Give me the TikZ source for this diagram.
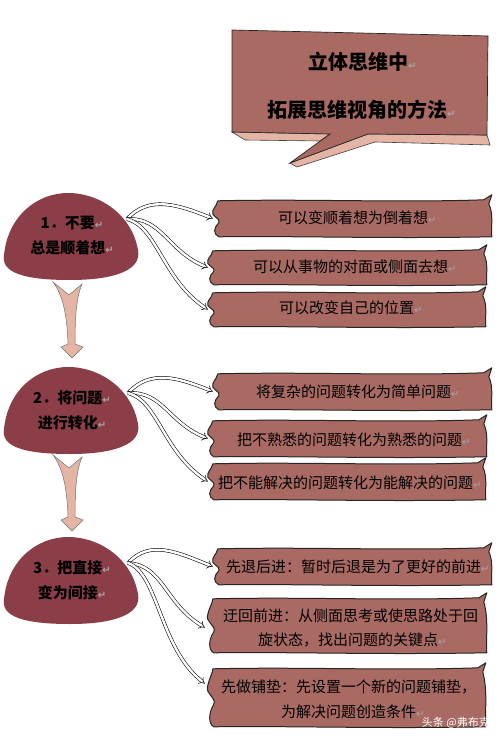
\documentclass[tikz,border=0pt]{standalone}
\usepackage{fontspec}
\setmainfont{Noto Sans CJK SC}
\newfontfamily\symf{DejaVu Sans}
\usetikzlibrary{arrows.meta,calc}
\definecolor{dome}{HTML}{8B3E48}
\definecolor{bann}{HTML}{A86A62}
\definecolor{pinkc}{HTML}{E4B5A4}
\newcommand\pmark{{\symf\color{black!35}\fontsize{10pt}{10pt}\selectfont ↵}}
\newcommand\bannershape[3]{%
\begin{scope}[shift={(#1.north west)}]
\draw[bannerst] (5,1)
  .. controls ({#2*0.35},-1) and ({#2*0.65},3) .. ({#2-9},0)
  -- ({#2-1},-5)
  -- ({#2-4},4)
  .. controls ({#2+1},{#3*0.4}) and ({#2-2},{#3*0.7}) .. ({#2-1},{#3})
  .. controls ({#2*0.6},{#3+2}) and ({#2*0.3},{#3-1}) .. (6,{#3})
  .. controls (0,{#3-3}) and (1,{#3*0.75}) .. (6,{#3*0.62})
  .. controls (9,{#3*0.5}) and (-3,{#3*0.45}) .. (0,{#3*0.3})
  .. controls (2,{#3*0.15}) and (5,5) .. (5,1)
  -- cycle;
\end{scope}}
\newcommand\domeshape{%
\fill[dome] (4,255) .. controls (8,215) and (38,193) .. (68,193)
  .. controls (100,193) and (132,215) .. (138,250)
  .. controls (142,270) and (115,280) .. (70,280)
  .. controls (22,280) and (1,272) .. (4,255) -- cycle;}
\newcommand\pinkarrow{%
\filldraw[fill=pinkc, draw=black!55, line width=0.5pt] (-17,0) .. controls (-8,12) and (-3,30) .. (-2,62)
  -- (-9,65) -- (2,76) -- (13,65) -- (5,62)
  .. controls (5,30) and (7,14) .. (12,2) -- (-1,13) -- cycle;}
\begin{document}
\begin{tikzpicture}[x=1pt,y=-1pt,
  bbox/.style={inner sep=0pt, draw=none},
  bannerst/.style={fill=bann, draw=black!85, line width=1pt, line join=round},
  btext/.style={font=\fontsize{15pt}{24pt}\selectfont, inner sep=0pt, text=black},
  dtext/.style={font=\fontsize{15pt}{25pt}\selectfont\bfseries, inner sep=0pt, align=center},
  ttext/.style={font=\fontsize{20pt}{24pt}\selectfont\bfseries, inner sep=0pt, anchor=west},
  conn/.style={double=white, double distance=2.4pt, line width=0.55pt, draw=black, -{Implies[scale=1.6]}}]
\useasboundingbox (0,0) rectangle (500,738);
\fill[white] (0,0) rectangle (500,738);

% title callout
\filldraw[fill=pinkc, draw=black!75, line width=0.6pt] (232,132) -- (245,140) -- (320,141) -- (330,134) -- cycle;
\filldraw[fill=pinkc, draw=black!75, line width=0.6pt] (290,163) -- (297,167) -- (375,142) -- (490,145) -- (487,135) -- (368,134) -- cycle;
\filldraw[fill=bann, draw=black!85, line width=0.7pt] (232,30) -- (488,36) -- (487,135) -- (368,134) -- (290,163) -- (330,134) -- (232,132) -- cycle;
\node[ttext] (tt1) at (308,62) {立体思维中\pmark};
\node[ttext] (tt2) at (267,110) {拓展思维视角的方法\pmark};

% domes
\begin{scope}[shift={(0,0)}]\domeshape\end{scope}
\begin{scope}[shift={(0,174)}]\domeshape\end{scope}
\begin{scope}[shift={(0,344)}]\domeshape\end{scope}
\node[dtext] (n1) at (72,236) {1．不要\pmark\\总是顺着想\pmark};
\node[dtext] (n2) at (72,410) {2．将问题\pmark\\进行转化\pmark};
\node[dtext] (n3) at (72,580) {3．把直接\pmark\\变为间接\pmark};

% down arrows
\coordinate (a1) at (70,282);
\coordinate (a2) at (70,455);
\begin{scope}[shift={(a1)}]\pinkarrow\end{scope}
\begin{scope}[shift={(a2)}]\pinkarrow\end{scope}

% banners
\node[bbox, minimum width=280pt, minimum height=37pt] (b1) at (353,218.5) {};
\node[bbox, minimum width=280pt, minimum height=35pt] (b2) at (348,267.5) {};
\node[bbox, minimum width=279pt, minimum height=35pt] (b3) at (347.5,309.5) {};
\node[bbox, minimum width=280pt, minimum height=37pt] (b4) at (353,391.5) {};
\node[bbox, minimum width=280pt, minimum height=37pt] (b5) at (348,438.5) {};
\node[bbox, minimum width=279pt, minimum height=37pt] (b6) at (347.5,481.5) {};
\node[bbox, minimum width=280pt, minimum height=37pt] (b7) at (353,566.5) {};
\node[bbox, minimum width=280pt, minimum height=55pt] (b8) at (348,625.5) {};
\node[bbox, minimum width=279pt, minimum height=59pt] (b9) at (347.5,697.5) {};
\bannershape{b1}{280}{37}
\bannershape{b2}{280}{35}
\bannershape{b3}{279}{35}
\bannershape{b4}{280}{37}
\bannershape{b5}{280}{37}
\bannershape{b6}{279}{37}
\bannershape{b7}{280}{37}
\bannershape{b8}{280}{55}
\bannershape{b9}{279}{59}

\node[btext, anchor=west] (t1) at (278,218) {可以变顺着想为倒着想\pmark};
\node[btext, anchor=west] (t2) at (253,267) {可以从事物的对面或侧面去想\pmark};
\node[btext, anchor=west] (t3) at (279,308) {可以改变自己的位置\pmark};
\node[btext, anchor=west] (t4) at (256,392) {将复杂的问题转化为简单问题\pmark};
\node[btext, anchor=west] (t5) at (237,440) {把不熟悉的问题转化为熟悉的问题\pmark};
\node[btext, anchor=west] (t6) at (218,483) {把不能解决的问题转化为能解决的问题\pmark};
\node[btext, anchor=west] (t7) at (226,567) {先退后进：暂时后退是为了更好的前进\pmark};
\node[btext, anchor=west] (t8a) at (223,616) {迂回前进：从侧面思考或使思路处于回};
\node[btext, anchor=west] (t8b) at (258,640) {旋状态，找出问题的关键点\pmark};
\node[btext, anchor=west] (t9a) at (221,687) {先做铺垫：先设置一个新的问题铺垫，};
\node[btext, anchor=west] (t9b) at (281,712) {为解决问题创造条件\pmark};

% connectors
\coordinate (c1) at (127,219);
\coordinate (c2) at (128,393);
\coordinate (c3) at (128,563);
\draw[conn] (c1) .. controls +(22,-24) and +(-35,-14) .. (b1.west);
\draw[conn] (c1) .. controls +(35,-2) and +(-40,-16) .. (b2.west);
\draw[conn] (c1) .. controls +(30,8) and +(-45,-30) .. (b3.west);
\draw[conn] (c2) .. controls +(22,-24) and +(-35,-14) .. (b4.west);
\draw[conn] (c2) .. controls +(35,-2) and +(-40,-16) .. (b5.west);
\draw[conn] (c2) .. controls +(30,8) and +(-45,-30) .. (b6.west);
\draw[conn] (c3) .. controls +(22,-24) and +(-35,-14) .. (b7.west);
\draw[conn] (c3) .. controls +(35,2) and +(-40,-24) .. ($(b8.west)+(-3,2)$);
\draw[conn] (c3) .. controls +(30,10) and +(-45,-35) .. ($(b9.west)+(-3,-14)$);

% watermark
\node[font=\fontsize{11pt}{12pt}\selectfont, text=white, inner sep=0pt, anchor=east] (wm) at (490,723) {头条 @弗布克};
\end{tikzpicture}
\end{document}
